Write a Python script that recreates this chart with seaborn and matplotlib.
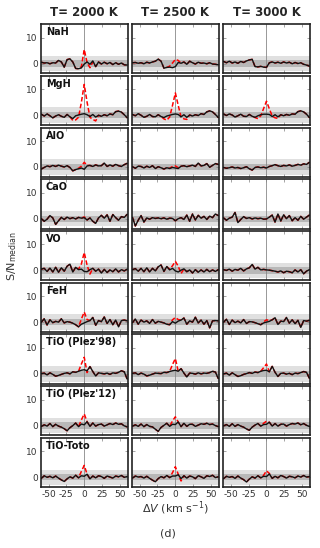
import numpy as np
import pandas as pd
import matplotlib
matplotlib.use("Agg")
import matplotlib.pyplot as plt
import seaborn as sns

# velocity grid of the cross-correlation (km/s)
velocity = list(range(-60, 61, 4))
# part of the grid where the injected-model curve differs from the observed one
core_velocity = list(range(-16, 17, 4))

temperatures = ["T= 2000 K", "T= 2500 K", "T= 3000 K"]
species = ["NaH", "MgH", "AlO", "CaO", "VO", "FeH",
           "TiO (Plez'98)", "TiO (Plez'12)", "TiO-Toto"]

# observed S/N (black)
nah_2000 = [0.5, 0.2, 0.3, -0.1, 0.3, 0.2, 1.2, 0.6, -1.4, 1.5, 1.8, 0.6, -1.9, -2.0, -1.7, -0.2,
            0.6, -0.3, 1.0, -1.2, 0.6, -0.2, 0.5, -0.1, 0.4, -0.4, 0.3, -0.3, 0.2, -0.5, -0.6]
nah_2500 = [0.3, 0.4, 0.1, 0.3, -0.1, 0.5, 0.2, 0.6, 0.9, 1.7, 0.9, -1.8, -1.5, -1.4, -1.6, -1.2,
            0.4, 0.1, 0.6, -0.3, 0.9, 0.3, -0.2, 0.5, 0.1, 0.2, -0.1, 0.3, -0.2, -0.3, -0.5]
nah_3000 = [0.8, 0.3, 0.9, 0.2, 0.6, 0.1, 0.8, 0.4, 1.0, 1.4, 1.6, -1.2, -1.3, -1.1, -1.4, -1.5,
            0.3, 0.6, 0.2, 0.5, 0.1, 0.6, 0.2, 0.5, -0.1, 0.4, 0.0, 0.3, -0.3, -0.6, -1.0]
mgh_2000 = [0.4, -0.3, 0.5, -0.2, -1.0, -0.3, 0.2, -0.4, -0.8, 0.3, -0.6, -1.3, -0.2, 0.1, 0.4, 0.6,
            0.2, -0.5, 0.3, -0.7, 0.0, -0.4, 0.2, -0.2, 0.5, 0.2, 1.4, 1.6, 1.2, 0.2, -1.0]
mgh_2500 = [0.3, -0.2, 0.6, 0.0, -0.8, -0.4, 0.3, -0.5, -0.6, 0.2, -0.5, -0.9, -0.3, 0.0, 0.3, 0.5,
            0.3, -0.6, 0.2, -0.8, 0.1, -0.3, 0.2, -0.1, 0.6, 0.3, 1.3, 1.7, 1.3, 0.3, -0.9]
mgh_3000 = [0.5, -0.1, 0.5, 0.1, -0.7, -0.2, 0.4, -0.4, -0.5, 0.3, -0.4, -0.8, -0.2, 0.2, 0.4, 0.4,
            0.3, -0.5, 0.2, -0.6, 0.2, -0.2, 0.3, 0.0, 0.5, 0.4, 1.4, 1.7, 1.3, 0.4, -0.9]
alo_2000 = [-0.8, -0.2, 0.4, 0.1, 0.6, 0.2, 0.7, 0.3, 0.0, 0.5, -0.2, -1.5, -1.0, -0.7, -0.4, -0.9,
            0.4, 0.6, 0.2, 0.8, 0.4, 0.5, 1.5, 0.2, 0.8, 0.3, 1.0, 0.5, 0.2, 0.9, 1.4]
alo_2500 = [0.1, -0.5, 0.3, 0.2, -0.4, 0.3, -0.2, 0.5, -0.6, 0.1, -0.3, -0.8, -0.3, -0.6, -0.2, -0.4,
            -0.6, 0.3, 0.5, 0.1, 0.4, 0.7, 0.2, 1.5, 0.4, 0.6, 1.3, -0.1, 0.6, 1.3, 1.0]
alo_3000 = [-0.2, -0.5, -0.3, 0.0, -0.4, -0.2, -0.6, -0.3, 0.1, -0.7, -1.2, -0.2, 0.0, -0.3, -0.1, -0.4,
            0.2, 0.5, 0.9, 0.5, 0.2, 0.6, 0.4, 0.8, 0.3, 0.6, 1.0, 0.7, 1.2, 1.0, 1.8]
cao_2000 = [0.0, -1.0, -0.2, 1.2, 0.3, -2.2, -0.8, 0.5, -0.3, 0.6, 0.0, 0.4, -0.1, 0.5, 0.2, 0.4,
            -0.5, 0.3, -1.0, -1.8, 0.3, 1.3, 0.2, 1.5, -1.0, 1.6, 0.4, -0.6, 0.8, 0.5, 1.7]
cao_2500 = [0.5, -2.8, -0.6, 1.2, -1.3, 0.3, -0.2, 0.4, 0.1, 0.3, 0.0, 0.3, -0.2, 0.2, 0.1, -0.8,
            0.0, 0.4, -0.3, 1.4, -1.0, 1.8, -0.5, 1.3, 0.2, 0.9, -0.3, 1.0, 0.4, 1.8, 1.2]
cao_3000 = [0.3, -0.6, 0.2, 0.6, 2.4, -1.5, -0.3, 0.8, 0.1, 0.4, -0.1, 0.3, 0.0, 0.2, -0.2, -0.1,
            0.6, 1.4, -1.3, 1.8, -0.9, 1.5, 0.0, 1.2, -0.8, 0.4, -0.6, 0.9, -0.2, 0.6, 1.4]
vo_2000 = [0.5, 0.8, -0.4, 0.9, -0.6, 1.2, -0.7, 1.0, -0.3, 1.6, 2.4, -0.6, 1.2, 0.3, 0.5, -0.4,
           -0.5, 0.3, 0.8, -0.3, 0.5, -1.0, 0.4, -0.8, 0.2, -0.5, 0.6, -0.6, 0.3, -0.2, 0.5]
vo_2500 = [0.3, 0.7, -0.3, 0.8, -0.5, 1.0, -0.6, 0.8, -0.2, 1.4, 2.1, -0.4, 1.5, 0.2, 0.8, -0.2,
           -0.6, 0.1, 0.6, -0.5, 0.2, -1.0, 0.3, -0.7, 0.2, -0.6, 0.4, -0.5, 0.2, -0.4, 0.3]
vo_3000 = [0.3, 0.0, 0.5, -0.3, 0.4, 0.1, 0.8, -0.2, 0.6, 1.0, 2.3, 0.5, 1.2, 0.2, 0.4, 0.2,
           0.1, -0.1, -0.3, -0.6, -0.2, -0.9, -0.3, -0.5, -0.9, 0.2, -0.6, 0.3, -1.3, -0.3, 0.3]
feh_2000 = [0.0, 1.3, -1.1, 0.9, -0.2, 0.3, 0.0, 1.3, -0.3, 0.2, 0.0, -0.4, -1.0, -1.8, -0.8, -0.3,
            0.2, 0.6, 1.8, -1.2, 0.6, 0.2, 2.0, -0.5, 1.0, -1.0, 0.8, -1.8, 0.6, 0.8, 0.5]
feh_2500 = [-0.2, 1.2, -0.8, 0.8, 0.0, 0.5, -0.5, 1.0, -0.4, 0.3, 0.0, -0.3, -0.8, -1.0, 0.2, -0.4,
            0.4, 0.8, 1.6, -0.8, 0.5, 0.0, 1.9, -0.3, 0.8, -0.8, 0.6, -2.2, 0.5, 0.6, 0.5]
feh_3000 = [0.0, 1.1, -0.9, 0.8, -0.2, 0.4, -0.3, 1.0, -0.5, 0.2, 0.1, -0.2, -0.6, -1.0, -0.3, 0.0,
            0.3, 0.9, 1.7, -0.9, 0.4, 0.2, 1.8, -0.4, 0.9, -0.6, 0.7, -2.0, 0.6, 0.4, 0.7]
tio98_2000 = [0.1, 0.3, -0.4, 0.4, -0.2, -0.9, -0.6, -0.2, 0.2, 0.4, 0.0, 0.8, 0.6, 1.0, 1.4, 1.6,
              1.2, 2.8, 0.9, -0.8, 0.4, 0.2, 0.0, 0.3, -0.2, 0.4, 0.2, 0.6, 1.2, 0.8, -2.0]
tio98_2500 = [0.2, 0.4, -0.3, 0.3, -0.1, -0.8, -0.5, -0.1, 0.3, 0.2, 0.1, 0.6, 0.5, 0.9, 1.2, 1.4,
              1.0, 2.0, 0.3, -1.2, 0.3, 0.2, -0.1, 0.4, 0.0, 0.3, 0.2, 0.5, 1.0, 0.7, -1.8]
tio98_3000 = [0.0, 0.3, -0.5, 0.4, -0.3, -1.0, -0.7, -0.2, 0.1, 0.5, 0.2, 0.7, 0.5, 1.0, 1.3, 1.4,
              0.8, 2.9, 0.6, -1.0, 0.2, 0.3, -0.1, 0.2, -0.3, 0.3, 0.1, 0.5, 0.9, 0.6, -1.7]
tio12_2000 = [-0.3, 0.3, -0.2, 0.8, -0.4, 0.5, -0.2, -0.6, -1.2, -2.0, -0.8, 0.0, 1.0, -0.4, 0.6, 0.3,
              1.5, -0.3, 1.0, -0.2, 0.4, 0.6, -0.2, 0.3, 0.8, 0.4, 1.0, 0.5, 0.7, -0.1, -0.5]
tio12_2500 = [-0.2, 0.3, -0.3, 0.6, -0.4, 0.4, -0.3, -0.5, -1.4, -2.2, -0.7, 0.1, 0.9, -0.3, 0.5, 0.4,
              1.4, -0.4, 0.9, -0.3, 0.5, 0.5, -0.3, 0.2, 0.7, 0.5, 0.9, 0.4, 0.6, 0.0, -0.4]
tio12_3000 = [-0.1, 0.4, -0.3, 0.7, -0.3, 0.4, -0.2, -0.6, -1.3, -1.8, -0.6, 0.2, 0.8, -0.2, 0.4, 0.5,
              1.3, -0.2, 0.8, -0.2, 0.5, 0.6, -0.2, 0.4, 0.8, 0.6, 1.0, 0.3, 0.8, 0.1, -0.3]
toto_2000 = [-0.4, 0.6, 0.0, 0.4, -0.2, 0.5, -0.3, -1.0, -1.6, -0.6, 0.2, -0.3, 0.8, -0.2, 0.6, 0.4,
             1.2, -0.6, 0.5, -0.2, 0.6, 0.3, -0.4, 0.5, 0.1, -0.3, 0.5, 0.2, 0.7, 0.0, 0.3]
toto_2500 = [-0.3, 0.5, 0.1, 0.3, -0.3, 0.4, -0.4, -1.1, -1.7, -0.5, 0.3, -0.2, 0.7, -0.1, 0.5, 0.5,
             1.0, -0.5, 0.6, -0.3, 0.5, 0.2, -0.5, 0.6, 0.2, -0.4, 0.6, 0.3, 0.8, -0.1, 0.2]
toto_3000 = [-0.5, 0.4, 0.0, 0.3, -0.4, 0.5, -0.3, -0.9, -1.8, -0.7, 0.2, -0.3, 0.6, -0.2, 0.4, 0.3,
             1.3, -0.4, 0.4, -0.2, 0.7, 0.3, -0.3, 0.4, 0.2, -0.2, 0.5, 0.1, 0.7, 0.1, 0.3]

# S/N with the injected model (red), values at core_velocity
nah_2000_inj = [0.6, -1.9, -2.0, -1.2, 5.4, 0.3, -1.6, 0.6, -1.2]
nah_2500_inj = [-1.8, -1.5, -1.0, 0.2, 1.6, 1.2, 0.1, 0.6, -0.3]
nah_3000_inj = [-1.2, -1.3, -1.1, -1.4, -1.5, 0.3, 0.6, 0.2, 0.5]
mgh_2000_inj = [-2.0, -1.8, -0.8, 5.0, 11.9, 5.0, -0.8, -1.6, -2.2]
mgh_2500_inj = [-1.4, -1.9, -0.7, 3.8, 8.6, 3.8, -0.7, -1.4, -1.6]
mgh_3000_inj = [-0.9, -1.3, -0.2, 2.6, 5.4, 2.5, -0.3, -1.0, -1.2]
alo_2000_inj = [-1.5, -1.0, -0.5, 0.3, 1.8, 0.6, 0.6, 0.2, 0.8]
alo_2500_inj = [-0.8, -0.3, -0.5, 0.2, 0.4, -0.3, 0.3, 0.5, 0.1]
alo_3000_inj = [-0.2, 0.0, -0.3, -0.1, -0.4, 0.2, 0.5, 0.9, 0.5]
cao_2000_inj = [0.4, -0.1, 0.5, 0.2, 0.7, -0.5, 0.3, -1.0, -1.8]
cao_2500_inj = [0.3, -0.2, 0.2, 0.1, -0.8, 0.0, 0.4, -0.3, 1.4]
cao_3000_inj = [0.3, 0.0, 0.2, -0.2, -0.1, 0.6, 1.4, -1.3, 1.8]
vo_2000_inj = [-0.6, 1.2, 0.5, 2.5, 6.9, 2.0, -1.4, 0.8, -0.3]
vo_2500_inj = [-0.4, 1.5, 0.4, 1.8, 3.5, 1.6, -1.2, 0.6, -0.5]
vo_3000_inj = [0.5, 1.2, 0.2, 0.4, 0.2, 0.1, -0.1, -0.3, -0.6]
feh_2000_inj = [-0.4, -1.0, -1.8, 1.2, 3.9, 1.0, 0.6, 1.8, -1.2]
feh_2500_inj = [-0.3, -0.8, -1.0, 0.9, 1.8, 1.0, 0.8, 1.6, -0.8]
feh_3000_inj = [-0.2, -0.6, -1.0, 0.1, 0.9, 0.6, 0.9, 1.7, -0.9]
tio98_2000_inj = [0.8, 0.6, 1.0, 3.8, 6.4, 0.5, 2.8, 0.9, -0.8]
tio98_2500_inj = [0.6, 0.5, 0.9, 3.6, 5.9, 1.0, 2.0, 0.3, -1.2]
tio98_3000_inj = [0.7, 0.5, 1.0, 2.4, 3.8, 0.8, 2.9, 0.6, -1.0]
tio12_2000_inj = [0.0, 1.0, -0.4, 2.2, 4.5, 1.5, -0.3, 1.0, -0.2]
tio12_2500_inj = [0.1, 0.9, -0.3, 1.8, 3.4, 1.4, -0.4, 0.9, -0.3]
tio12_3000_inj = [0.2, 0.8, -0.2, 0.9, 1.7, 1.3, -0.2, 0.8, -0.2]
toto_2000_inj = [-0.3, 0.8, -0.2, 2.3, 4.6, 1.2, -0.6, 0.5, -0.2]
toto_2500_inj = [-0.2, 0.7, -0.1, 1.8, 4.1, 1.2, -1.4, 0.6, -0.3]
toto_3000_inj = [-0.3, 0.6, -0.2, 0.8, 2.5, 1.5, -0.4, 0.4, -0.2]

observed = [
    [nah_2000, nah_2500, nah_3000],
    [mgh_2000, mgh_2500, mgh_3000],
    [alo_2000, alo_2500, alo_3000],
    [cao_2000, cao_2500, cao_3000],
    [vo_2000, vo_2500, vo_3000],
    [feh_2000, feh_2500, feh_3000],
    [tio98_2000, tio98_2500, tio98_3000],
    [tio12_2000, tio12_2500, tio12_3000],
    [toto_2000, toto_2500, toto_3000],
]
injected = [
    [nah_2000_inj, nah_2500_inj, nah_3000_inj],
    [mgh_2000_inj, mgh_2500_inj, mgh_3000_inj],
    [alo_2000_inj, alo_2500_inj, alo_3000_inj],
    [cao_2000_inj, cao_2500_inj, cao_3000_inj],
    [vo_2000_inj, vo_2500_inj, vo_3000_inj],
    [feh_2000_inj, feh_2500_inj, feh_3000_inj],
    [tio98_2000_inj, tio98_2500_inj, tio98_3000_inj],
    [tio12_2000_inj, tio12_2500_inj, tio12_3000_inj],
    [toto_2000_inj, toto_2500_inj, toto_3000_inj],
]

sns.set_theme(style="ticks")
plt.rcParams['font.family'] = ['DejaVu Sans']
plt.rcParams['axes.unicode_minus'] = False

fig, axes = plt.subplots(9, 3, figsize=(3.2, 5.48), dpi=100, sharex=True, sharey=True)
fig.subplots_adjust(left=0.127, right=0.969, top=0.956, bottom=0.111, wspace=0.045, hspace=0.05)

for i, name in enumerate(species):
    for j, temp in enumerate(temperatures):
        ax = axes[i, j]
        obs = observed[i][j]
        # red curve = observed everywhere except the core around 0 km/s
        red = list(obs)
        for v, val in zip(core_velocity, injected[i][j]):
            red[velocity.index(v)] = val
        df = pd.DataFrame({"v": velocity, "obs": obs, "inj": red})

        ax.axhspan(-3, 3, color="#e0e0e0", lw=0, zorder=0)
        ax.axhspan(-1.2, 1.2, color="#b8b8b8", lw=0, zorder=0.5)
        ax.axvline(0, color="#888888", lw=0.6, zorder=1)

        sns.lineplot(data=df, x="v", y="inj", ax=ax, color="red", lw=1.1,
                     linestyle=(0, (3, 1.5)), zorder=2)
        sns.lineplot(data=df, x="v", y="obs", ax=ax, color="#111111", lw=1.0, zorder=3)

        ax.set_xlim(-61, 61)
        ax.set_ylim(-3.8, 15.2)
        ax.set_xticks([-50, -25, 0, 25, 50])
        ax.set_yticks([0, 10])
        ax.set_xlabel("")
        ax.set_ylabel("")
        ax.tick_params(direction="in", top=True, right=True, length=2, width=0.5,
                       color="0.5", labelsize=6.5, labelcolor="0.2", pad=2)
        for sp in ax.spines.values():
            sp.set_linewidth(1.2)
            sp.set_color("#222222")

        if j == 0:
            ax.text(0.06, 0.94, name, transform=ax.transAxes, fontsize=7,
                    fontweight="bold", va="top", ha="left", color="#111111")
        if i == 0:
            ax.set_title(temp, fontsize=8.5, fontweight="bold", pad=6)

fig.text(0.547, 0.072, r"$\Delta V$ (km s$^{-1}$)", ha="center", va="center",
         fontsize=8, color="0.2")
fig.text(0.037, 0.533, r"S/N$_{\rm median}$", ha="center", va="center",
         rotation=90, fontsize=8, color="0.2")
fig.text(0.525, 0.027, "(d)", ha="center", va="center", fontsize=8, color="0.2")

fig.savefig("out.png", dpi=100)
